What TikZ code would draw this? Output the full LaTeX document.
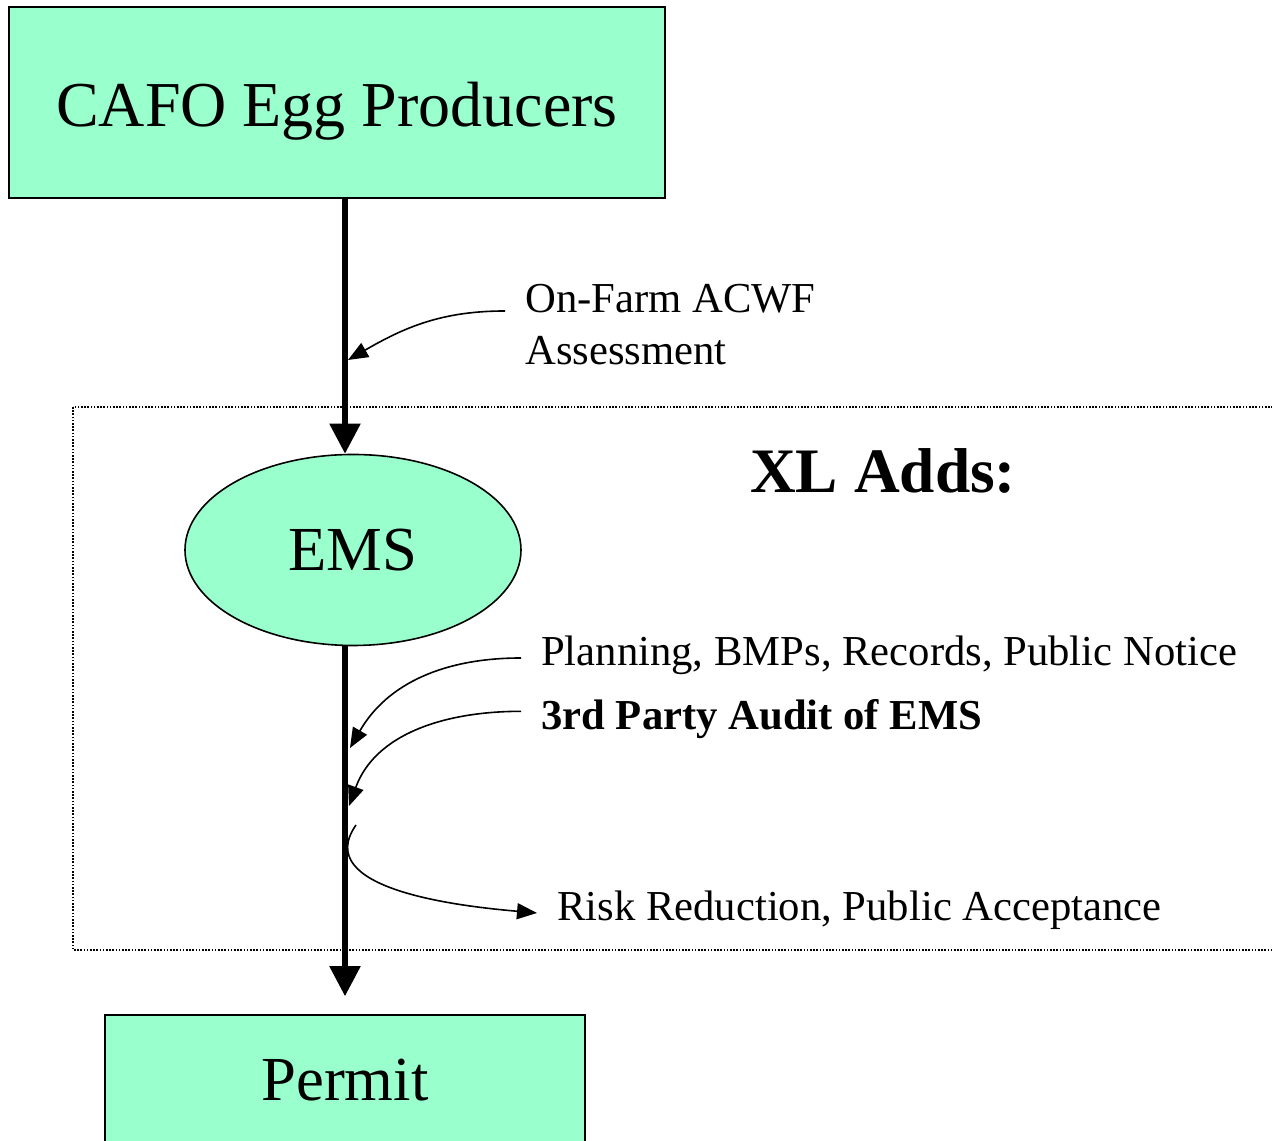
\documentclass[tikz,border=0pt]{standalone}
\usepackage{fontspec}
\setmainfont{Liberation Serif}
\usepackage{tikz}
\usetikzlibrary{arrows.meta}
\usetikzlibrary{shapes.geometric}
\definecolor{cb}{RGB}{0,0,0}
\definecolor{cg}{RGB}{153,255,204}
\tikzstyle{box}=[draw=cb, fill=cg, line width=1.2pt, inner sep=0pt, font=\fontsize{48}{58}\selectfont]
\tikzstyle{oval}=[ellipse, draw=cb, fill=cg, line width=1.2pt, inner sep=0pt, font=\fontsize{47}{56}\selectfont]
\tikzstyle{note}=[cb, inner xsep=15pt, inner ysep=0pt, anchor=base west, align=left, font=\fontsize{32}{39}\selectfont]
\tikzstyle{frame}=[cb, line width=1.2pt, dash pattern=on 1.2pt off 1.2pt]
\tikzstyle{spine}=[cb, line width=4pt, -{Triangle[length=22.5pt,width=22.5pt]}]
\tikzstyle{feed}=[cb, line width=1.2pt, -{Triangle[length=15pt,width=12pt]}]

\begin{document}
\begin{tikzpicture}[x=0.75pt, y=0.75pt]
  \useasboundingbox (0,0) rectangle (1272,1141);
  \draw [frame] (73,734) rectangle (1290,191);

  \node [box, text height=46pt, text depth=10pt, minimum width=492pt, minimum height=143.25pt] (cafo) at (337,1038.5) {CAFO Egg Producers};
  \node [oval, minimum width=252pt, minimum height=143.25pt] (ems) at (353,591) {EMS};
  \node [box, font=\fontsize{47}{56}\selectfont, minimum width=360pt, minimum height=97.5pt] (permit) at (345,61) {Permit};

  \node [anchor=base west, inner sep=0pt, font=\bfseries\fontsize{47.5}{57}\selectfont] (xl) at (750,648) {XL Adds:};

  \node [note] (acwf) at (505,776) {On-Farm ACWF\\Assessment};
  \node [note] (plan) at (521,475) {Planning, BMPs, Records, Public Notice};
  \node [note, font=\bfseries\fontsize{32}{39}\selectfont] (audit) at (521,411) {3rd Party Audit of EMS};
  \node [note] (risk) at (537,220) {Risk Reduction, Public Acceptance};

  \draw [spine] (cafo.south -| permit.north) -- (ems.north -| permit.north);
  \draw [spine] (ems.south -| permit.north) -- ([yshift=13.5pt]permit.north);

  \coordinate (j1) at (348,781);
  \coordinate (j2) at (350,393);
  \coordinate (j3) at (349,335);
  \coordinate (j4) at (356,316);
  \draw [feed] ([yshift=40.5pt]acwf.base west) to[out=180, in=30] (j1);
  \draw [feed] ([yshift=6pt]plan.base west) to[out=180, in=60] (j2);
  \draw [feed] ([yshift=14pt]audit.base west) to[out=180, in=70] (j3);
  \draw [feed] (j4) to[out=235, in=175] ([yshift=6pt]risk.base west);
\end{tikzpicture}
\end{document}
